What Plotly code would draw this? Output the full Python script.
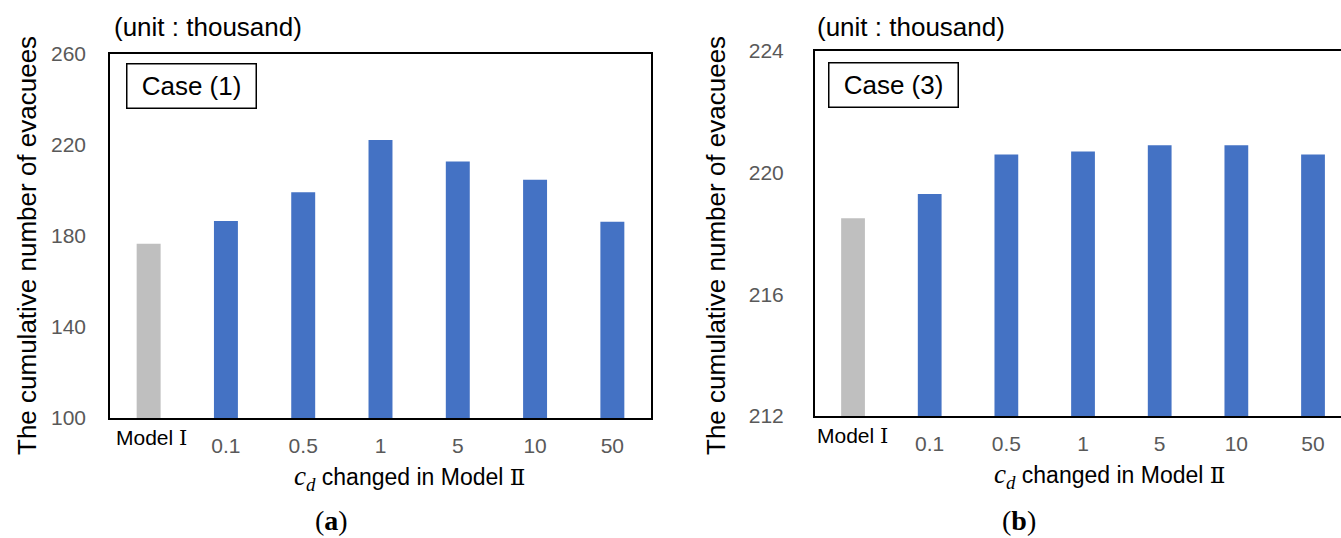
import plotly.graph_objects as go

# ---- data ----
categories = ["Model Ⅰ", "0.1", "0.5", "1", "5", "10", "50"]
case1_values = [176.6, 186.6, 199.2, 222.2, 212.7, 204.7, 186.3]
case3_values = [218.5, 219.3, 220.6, 220.7, 220.9, 220.9, 220.6]
case1_ticks = [100, 140, 180, 220, 260]
case3_ticks = [212, 216, 220, 224]

W, H = 1341, 538
def px(x):
    return x / W
def py(y):
    return 1 - y / H

GRAY = "#BFBFBF"
BLUE = "#4472C4"
colors = [GRAY] + [BLUE] * (len(categories) - 1)
FONT = "Arial, 'Liberation Sans', sans-serif"
SERIF = "'Liberation Serif', 'DejaVu Serif', serif"
ROMAN = "'DejaVu Serif', 'Noto Sans CJK JP', serif"

def roman(s):
    out = s
    for ch in ("Ⅱ", "Ⅰ"):
        out = out.replace(ch, "<span style=\"font-family:" + ROMAN.replace('"', '') + "\">" + ch + "</span>")
    return out

fig = go.Figure()
fig.add_trace(go.Bar(x=categories, y=case1_values, marker=dict(color=colors, line=dict(width=0)),
                     width=0.31, xaxis="x", yaxis="y", showlegend=False))
fig.add_trace(go.Bar(x=categories, y=case3_values, marker=dict(color=colors, line=dict(width=0)),
                     width=0.31, xaxis="x2", yaxis="y2", showlegend=False))

tickfont = dict(family=FONT, size=21, color="#595959")
common_x = dict(type="category", categoryorder="array", categoryarray=categories,
                tickmode="array", tickvals=categories[1:], ticktext=categories[1:],
                showgrid=False, zeroline=False, ticks="", tickfont=tickfont,
                showline=True, linecolor="black", linewidth=1.5, mirror=True,
                ticklabelstandoff=8, fixedrange=True, automargin=False)

fig.update_layout(
    template="none",
    width=W, height=H, margin=dict(l=0, r=0, t=0, b=0, pad=0, autoexpand=False),
    paper_bgcolor="white", plot_bgcolor="white",
    font=dict(family=FONT, color="black"),
    xaxis=dict(domain=[px(110), px(651)], range=[-0.5, 6.5], anchor="y", **common_x),
    yaxis=dict(domain=[py(418), py(54)], range=[100, 260], tickvals=case1_ticks,
               showgrid=False, zeroline=False, ticks="", tickfont=tickfont,
               showline=True, linecolor="black", linewidth=1.5, mirror=True,
               ticklabelstandoff=18, anchor="x", automargin=False),
    xaxis2=dict(domain=[px(814.7), 1.0], range=[-0.5, 6.365], anchor="y2", **common_x),
    yaxis2=dict(domain=[py(416), py(51)], range=[212, 224], tickvals=case3_ticks,
                showgrid=False, zeroline=False, ticks="", tickfont=tickfont,
                showline=True, linecolor="black", linewidth=1.5, mirror=False,
                ticklabelstandoff=25, anchor="x2", automargin=False),
    bargap=0.69,
)

ann = []
def text(x, y, s, size, xanchor="center", yanchor="middle", family=FONT, color="black", angle=0):
    ann.append(dict(x=px(x), y=py(y), xref="paper", yref="paper", text=s, showarrow=False,
                    xanchor=xanchor, yanchor=yanchor, textangle=angle,
                    font=dict(family=family, size=size, color=color)))

# unit labels
text(112, 27, "(unit : thousand)", 26, xanchor="left")
text(815, 27, "(unit : thousand)", 26, xanchor="left")
# y titles
text(27, 246, "The cumulative number of evacuees", 26, angle=-90)
text(716, 246, "The cumulative number of evacuees", 26, angle=-90)
# Model I labels
text(151, 438, roman(categories[0]), 21)
text(852.5, 436, roman(categories[0]), 21)
# x titles
xt = ("<span style=\"font-family:'Liberation Serif', 'DejaVu Serif', serif;font-size:27px\"><i>c</i>"
      "<sub><i>d</i></sub></span> changed in Model " + roman("Ⅱ"))
text(292, 478, xt, 23, xanchor="left")
text(992, 476, xt, 23, xanchor="left")
# panel letters
text(331, 538, "(<b>a</b>)", 28, family=SERIF, yanchor="bottom")
text(1019, 538, "(<b>b</b>)", 28, family=SERIF, yanchor="bottom")

# case boxes
for x0, y0, label in [(126, 63, "Case (1)"), (828, 62, "Case (3)")]:
    ann.append(dict(x=px(x0), y=py(y0), xref="paper", yref="paper", text=label, showarrow=False,
                    xanchor="left", yanchor="top", width=116, height=31, borderpad=6,
                    bordercolor="black", borderwidth=1.5, bgcolor="white", align="center",
                    valign="middle", font=dict(family=FONT, size=26, color="black")))

fig.update_layout(annotations=ann)
fig.write_html("out.html")
